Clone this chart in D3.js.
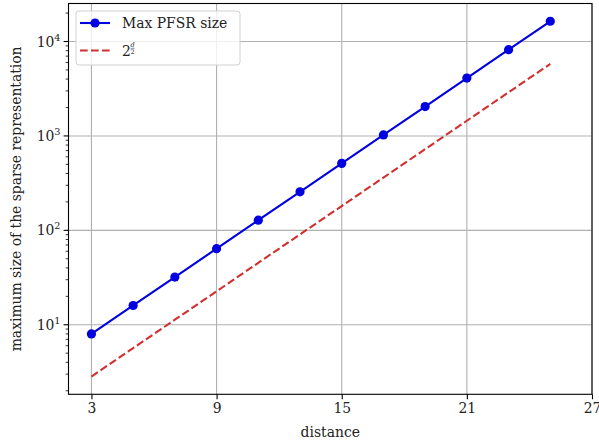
<!DOCTYPE html>
<html><head><meta charset="utf-8">
<script src="https://cdn.jsdelivr.net/npm/d3@7"></script>
<style>body{margin:0;background:#fff}svg{display:block}text{font-family:"DejaVu Serif",serif;fill:#222}</style>
</head><body><svg id="c" width="599" height="447"></svg>
<script>
const distances = [3,5,7,9,11,13,15,17,19,21,23,25];
const maxPFSR = [8,16,32,64,128,256,512,1024,2048,4096,8192,16384];
const lowerBound = [2.83,5.66,11.3,22.6,45.3,90.5,181,362,724,1448,2896,5793];
const xTicks = [3,9,15,21,27];
const yTickExps = [1,2,3,4];
const seriesNames = ["Max PFSR size", "2"];

const svg = d3.select("#c");
const L = 68.5, R = 592, T = 3.5, B = 394.3;
const x = d3.scaleLinear().domain([1.9, 27]).range([L, R]);
const y = d3.scaleLog().domain([Math.pow(10,0.2634), Math.pow(10,4.4026)]).range([B, T]);
const blue = "#0000e0", red = "#d03030";

// grid
const g = svg.append("g");
g.selectAll(".gx").data(xTicks).join("line")
  .attr("x1", d=>x(d)).attr("x2", d=>x(d)).attr("y1", T).attr("y2", B)
  .attr("stroke", "#b0b0b0").attr("stroke-width", 1.1);
g.selectAll(".gy").data(yTickExps).join("line")
  .attr("y1", d=>y(Math.pow(10,d))).attr("y2", d=>y(Math.pow(10,d))).attr("x1", L).attr("x2", R)
  .attr("stroke", "#b0b0b0").attr("stroke-width", 1.1);

// lines
const line = d3.line().x((d,i)=>x(distances[i])).y(d=>y(d));
svg.append("path").datum(lowerBound).attr("d", line).attr("fill","none")
  .attr("stroke", red).attr("stroke-width", 2.1).attr("stroke-dasharray","7.7,3.3");
svg.append("path").datum(maxPFSR).attr("d", line).attr("fill","none")
  .attr("stroke", blue).attr("stroke-width", 2.1);
svg.selectAll(".pt").data(maxPFSR).join("circle")
  .attr("cx",(d,i)=>x(distances[i])).attr("cy", d=>y(d)).attr("r", 4.6).attr("fill", blue);

// spines
svg.append("rect").attr("x", L).attr("y", T).attr("width", R-L).attr("height", B-T)
  .attr("fill","none").attr("stroke","#000").attr("stroke-width",1.1);

// x axis ticks
const xa = svg.append("g").attr("transform", `translate(0,${B})`)
  .call(d3.axisBottom(x).tickValues(xTicks).tickSize(4.9).tickPadding(4).tickFormat(d3.format("d")));
xa.select(".domain").remove();
xa.selectAll("line").attr("stroke","#000").attr("stroke-width",1.1);
xa.selectAll("text").attr("font-size", 13.9).attr("fill","#222").attr("font-family","DejaVu Serif");

// y axis: major and minor ticks
const minor = [];
for (let e=0;e<=4;e++) for (let m=2;m<=9;m++){ const v=m*Math.pow(10,e); if (v>=y.domain()[0] && v<=y.domain()[1]) minor.push(v); }
svg.selectAll(".ymin").data(minor).join("line")
  .attr("x1", L-2.8).attr("x2", L).attr("y1", d=>y(d)).attr("y2", d=>y(d))
  .attr("stroke","#000").attr("stroke-width",0.8);
svg.selectAll(".ymaj").data(yTickExps).join("line")
  .attr("x1", L-4.9).attr("x2", L).attr("y1", d=>y(Math.pow(10,d))).attr("y2", d=>y(Math.pow(10,d)))
  .attr("stroke","#000").attr("stroke-width",1.1);
const yl = svg.selectAll(".ylab").data(yTickExps).join("text")
  .attr("x", L-8).attr("y", d=>y(Math.pow(10,d))+5).attr("text-anchor","end").attr("font-size",13.9);
yl.append("tspan").text("10");
yl.append("tspan").attr("dy",-6).attr("font-size",9.7).text(d=>d);

// axis labels
svg.append("text").attr("x",(L+R)/2).attr("y",437).attr("text-anchor","middle").attr("font-size",13.9).text("distance");
svg.append("text").attr("transform",`translate(21,${(T+B)/2}) rotate(-90)`).attr("text-anchor","middle")
  .attr("font-size",13.9).text("maximum size of the sparse representation");

// legend
const lg = svg.append("g");
lg.append("rect").attr("x",76).attr("y",11).attr("width",164).attr("height",54).attr("rx",3)
  .attr("fill","#fff").attr("fill-opacity",0.8).attr("stroke","#d0d0d0").attr("stroke-width",1);
lg.append("line").attr("x1",80).attr("x2",110).attr("y1",23).attr("y2",23).attr("stroke",blue).attr("stroke-width",2.1);
lg.append("circle").attr("cx",95).attr("cy",23).attr("r",4.6).attr("fill",blue);
lg.append("text").attr("x",122).attr("y",28).attr("font-size",13.9).text(seriesNames[0]);
lg.append("line").attr("x1",80).attr("x2",110).attr("y1",50.5).attr("y2",50.5).attr("stroke",red)
  .attr("stroke-width",2.1).attr("stroke-dasharray","7.7,3.3");
lg.append("text").attr("x",122).attr("y",56).attr("font-size",13.9).text(seriesNames[1]);
lg.append("text").attr("x",132.5).attr("y",47).attr("font-size",6.5).attr("text-anchor","middle").attr("font-style","italic").text("d");
lg.append("line").attr("x1",130.5).attr("x2",134.5).attr("y1",48.3).attr("y2",48.3).attr("stroke","#222").attr("stroke-width",0.5);
lg.append("text").attr("x",132.5).attr("y",54).attr("font-size",6.5).attr("text-anchor","middle").text("2");
</script></body></html>
